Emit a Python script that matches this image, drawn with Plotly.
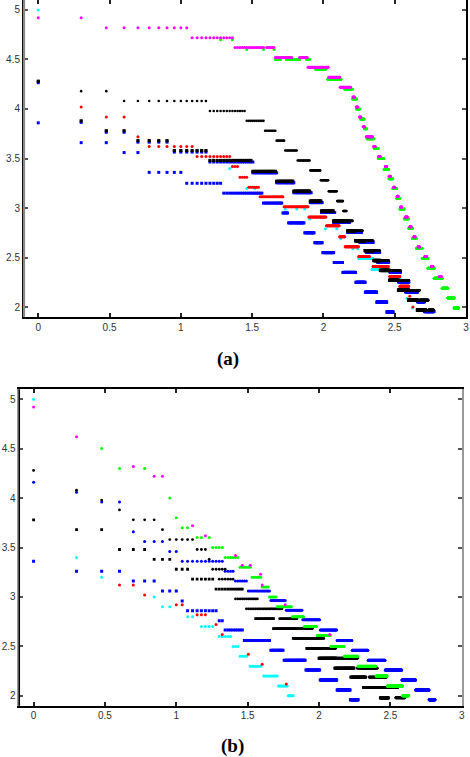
import math
import plotly.graph_objects as go

# Each run: (log10 value, first rank, last rank); points sit at x = log10(rank)
# ---------------- panel (a) ----------------
a_cyan = [(5.0, 1, 1), (3.40, 22, 22), (3.197, 29, 29), (3.197, 33, 33), (2.99, 54, 54), (2.99, 65, 65),
          (2.99, 74, 74), (2.89, 80, 80), (2.79, 103, 103), (2.79, 124, 124), (2.69, 132, 132),
          (2.59, 161, 161), (2.59, 174, 174), (2.49, 177, 222), (2.38, 219, 270), (2.28, 295, 345),
          (2.18, 337, 395), (2.09, 386, 386), (1.99, 419, 419)]
a_green = [(4.70, 19, 19), (4.70, 23, 23), (4.60, 29, 29), (4.60, 38, 38), (4.60, 45, 45), (4.50, 46, 50),
           (4.50, 55, 68), (4.50, 76, 80), (4.40, 88, 104), (4.30, 107, 133), (4.20, 141, 160),
           (4.10, 160, 171), (4.00, 171, 180), (3.90, 182, 193), (3.80, 194, 201), (3.70, 202, 226),
           (3.60, 227, 242), (3.50, 243, 265), (3.39, 266, 287), (3.295, 288, 306), (3.197, 307, 326),
           (3.10, 327, 343), (2.99, 344, 368), (2.893, 369, 396), (2.795, 397, 421), (2.693, 422, 448),
           (2.592, 449, 492), (2.49, 493, 540), (2.393, 541, 597), (2.29, 598, 680), (2.19, 681, 745),
           (2.092, 746, 825), (1.99, 826, 885)]
a_magenta = [(4.92, 1, 2), (4.82, 3, 11), (4.72, 12, 23), (4.62, 24, 38), (4.62, 40, 45), (4.52, 46, 60),
             (4.52, 68, 77), (4.42, 78, 99), (4.42, 103, 108), (4.32, 109, 130), (4.22, 131, 155),
             (4.12, 161, 165), (4.02, 170, 174), (3.92, 179, 183), (3.82, 190, 194), (3.72, 200, 221),
             (3.62, 225, 231), (3.52, 244, 250), (3.42, 272, 278), (3.32, 289, 295), (3.21, 310, 316),
             (3.12, 329, 335), (3.01, 348, 354), (2.91, 377, 387), (2.81, 404, 412), (2.71, 431, 439),
             (2.61, 461, 471), (2.51, 515, 529), (2.41, 572, 586), (2.31, 653, 670)]
a_blue_low = [(3.86, 1, 1), (3.66, 2, 3), (3.56, 4, 5), (3.36, 6, 10), (3.25, 11, 19), (3.15, 20, 37),
              (3.05, 38, 51), (2.95, 52, 56), (2.85, 57, 73), (2.75, 74, 86), (2.65, 87, 98),
              (2.55, 99, 118), (2.45, 119, 136), (2.35, 137, 168), (2.25, 169, 196), (2.15, 197, 236),
              (2.05, 237, 278), (1.95, 279, 308)]
a_blue_up = [(4.265, 1, 1), (3.865, 2, 2), (3.765, 3, 4), (3.665, 5, 8), (3.565, 9, 15), (3.465, 16, 32),
             (3.355, 32, 47), (3.255, 47, 62), (3.155, 62, 82), (3.055, 81, 98), (2.955, 97, 120),
             (2.855, 118, 152), (2.755, 148, 185), (2.655, 180, 223), (2.555, 200, 248), (2.455, 240, 287),
             (2.355, 293, 347), (2.255, 337, 397), (2.155, 378, 458), (2.055, 458, 510), (1.955, 512, 595)]
a_red = [(4.02, 2, 2), (3.92, 3, 4), (3.72, 5, 5), (3.62, 6, 12), (3.52, 13, 22), (3.42, 23, 25),
         (3.31, 26, 29), (3.21, 30, 35), (3.115, 36, 52), (3.014, 53, 78), (2.91, 79, 104),
         (2.82, 105, 129), (2.71, 130, 141), (2.61, 142, 176), (2.51, 177, 210), (2.41, 223, 285),
         (2.31, 292, 343), (2.21, 344, 396), (2.11, 403, 403), (2.0, 425, 425)]
a_black_sq = [(4.28, 1, 1), (3.88, 2, 2), (3.78, 3, 4), (3.68, 5, 8), (3.58, 9, 15), (3.48, 16, 31),
              (3.37, 32, 46), (3.27, 47, 61), (3.17, 62, 80), (3.07, 81, 96), (2.97, 97, 117),
              (2.87, 118, 147), (2.77, 148, 167), (2.67, 168, 195), (2.57, 196, 225), (2.47, 226, 250),
              (2.37, 251, 290), (2.27, 291, 335), (2.17, 336, 395), (2.07, 396, 455), (1.97, 456, 520)]
a_black_dot = [(4.28, 1, 1), (4.18, 2, 3), (4.08, 4, 15), (3.98, 16, 28), (3.88, 29, 38), (3.78, 39, 46),
               (3.68, 47, 53), (3.58, 54, 65), (3.48, 66, 80), (3.38, 81, 95), (3.28, 96, 108),
               (3.17, 109, 124), (3.07, 125, 137), (2.97, 138, 145), (2.87, 146, 160), (2.77, 161, 188),
               (2.67, 189, 223), (2.57, 224, 248), (2.47, 249, 287), (2.37, 288, 347), (2.27, 348, 397),
               (2.17, 398, 472), (2.07, 473, 543), (1.97, 544, 595)]

# ---------------- panel (b) ----------------
b_cyan = [(5.0, 1, 1), (3.40, 2, 2), (3.20, 3, 3), (3.0, 7, 7), (2.90, 8, 9), (2.80, 12, 13), (2.70, 15, 18),
          (2.60, 20, 24), (2.50, 25, 27), (2.40, 28, 31), (2.30, 33, 39), (2.20, 41, 51), (2.10, 52, 60),
          (2.00, 61, 66)]
b_red = [(3.12, 4, 5), (3.02, 6, 6), (2.92, 10, 11), (2.82, 14, 16), (2.72, 19, 19), (2.62, 21, 21),
         (2.42, 32, 32), (2.32, 40, 40), (2.12, 59, 59)]
b_blue_low = [(3.36, 1, 1), (3.26, 2, 4), (3.16, 5, 7), (3.06, 8, 10), (2.96, 11, 11), (2.86, 12, 19),
              (2.76, 20, 21), (2.665, 22, 29), (2.56, 30, 45), (2.46, 46, 56), (2.36, 57, 80),
              (2.26, 81, 101), (2.16, 102, 133), (2.06, 134, 165), (1.96, 166, 188)]
b_blue_up = [(4.16, 1, 1), (4.06, 2, 2), (3.96, 3, 4), (3.66, 5, 5), (3.56, 6, 8), (3.46, 9, 10),
             (3.36, 11, 21), (3.26, 22, 25), (3.16, 26, 31), (3.06, 32, 45), (2.965, 46, 58),
             (2.865, 59, 76), (2.77, 77, 101), (2.665, 102, 133), (2.56, 134, 170), (2.46, 171, 220),
             (2.36, 221, 290), (2.26, 291, 380), (2.16, 381, 475), (2.06, 476, 590), (1.96, 591, 650)]
b_black_sq = [(3.78, 1, 1), (3.68, 2, 3), (3.48, 4, 6), (3.38, 7, 9), (3.28, 10, 12), (3.18, 13, 18),
              (3.08, 19, 29), (2.78, 36, 48), (2.68, 48, 69), (2.58, 66, 85), (2.48, 82, 103),
              (2.38, 100, 131), (2.28, 129, 176), (2.19, 167, 212), (2.085, 205, 288), (1.98, 269, 306)]
b_black_dot = [(4.28, 1, 1), (4.08, 2, 2), (3.98, 3, 3), (3.88, 4, 4), (3.78, 5, 7), (3.68, 8, 8),
               (3.58, 9, 13), (3.48, 14, 16), (3.38, 17, 17), (3.28, 18, 22), (3.18, 20, 25),
               (2.98, 26, 37), (2.88, 31, 55), (2.78, 53, 70), (2.68, 70, 90), (2.58, 85, 108),
               (2.48, 103, 131), (2.38, 131, 186), (2.28, 186, 256), (2.19, 224, 298),
               (2.085, 282, 357), (1.98, 345, 400)]
b_green = [(4.50, 3, 3), (4.30, 4, 4), (4.30, 6, 6), (4.00, 9, 9), (3.80, 10, 10), (3.70, 11, 12),
           (3.60, 14, 15), (3.60, 17, 17), (3.50, 18, 21), (3.40, 22, 27), (3.30, 28, 33), (3.20, 34, 39),
           (3.10, 40, 44), (3.00, 45, 50), (2.90, 51, 64), (2.80, 65, 78), (2.70, 79, 96), (2.61, 97, 120),
           (2.50, 121, 150), (2.40, 151, 187), (2.30, 188, 250), (2.20, 251, 300), (2.10, 301, 385),
           (2.00, 386, 425)]
b_magenta = [(4.92, 1, 1), (4.62, 2, 2), (4.32, 5, 5), (4.22, 7, 8), (3.72, 13, 13), (3.62, 16, 16),
             (3.42, 26, 26), (3.32, 29, 29), (3.32, 33, 33), (3.23, 39, 39), (3.12, 40, 40),
             (2.92, 58, 58), (2.62, 119, 119)]

x_ticks = [0, 0.5, 1, 1.5, 2, 2.5, 3]
x_labels = ["0", "0.5", "1", "1.5", "2", "2.5", "3"]
y_ticks = [2, 2.5, 3, 3.5, 4, 4.5, 5]
y_labels = ["2", "2.5", "3", "3.5", "4", "4.5", "5"]


def expand(runs):
    xs, ys = [], []
    for val, r0, r1 in runs:
        for r in range(r0, r1 + 1):
            xs.append(math.log10(r))
            ys.append(val)
    return xs, ys


CY, GR, MG, BL, RD, BK = "#00ffff", "#00ff00", "#ff00ff", "#0000ff", "#ff0000", "#000000"

fig = go.Figure()


def add(runs, color, symbol, size, xa, ya):
    xs, ys = expand(runs)
    fig.add_trace(go.Scatter(x=xs, y=ys, mode="markers", xaxis=xa, yaxis=ya, hoverinfo="skip",
                             marker=dict(color=color, symbol=symbol, size=size, line=dict(width=0))))


# panel (a) draw order
add(a_cyan, CY, "circle", 3, "x", "y")
add(a_green, GR, "circle", 3, "x", "y")
add(a_magenta, MG, "circle", 3, "x", "y")
add(a_blue_low, BL, "square", 3, "x", "y")
add(a_blue_up, BL, "square", 3, "x", "y")
add(a_red, RD, "circle", 3, "x", "y")
add(a_black_sq, BK, "square", 3.2, "x", "y")
add(a_black_dot, BK, "circle", 2.6, "x", "y")

# panel (b) draw order
add(b_cyan, CY, "circle", 3, "x2", "y2")
add(b_red, RD, "circle", 3, "x2", "y2")
add(b_blue_low, BL, "square", 3, "x2", "y2")
add(b_blue_up, BL, "circle", 3, "x2", "y2")
add(b_black_sq, BK, "square", 2.8, "x2", "y2")
add(b_black_dot, BK, "circle", 2.8, "x2", "y2")
add(b_green, GR, "circle", 3, "x2", "y2")
add(b_magenta, MG, "circle", 3, "x2", "y2")

W, H = 470, 757
tickfont = dict(family="Liberation Sans, Arial, sans-serif", size=10, color="#333")


def xax(domain, rng, anchor, lw):
    return dict(domain=domain, range=rng, anchor=anchor, tickmode="array", tickvals=x_ticks,
                ticktext=x_labels, ticks="inside", ticklen=4, tickwidth=1.5, tickcolor="#222",
                showline=True, linecolor="#000", linewidth=lw, mirror="ticks", showgrid=False,
                zeroline=False, tickfont=tickfont, fixedrange=True, automargin=False,
                ticklabeloverflow="allow")


def yax(domain, rng, anchor, lw, color):
    return dict(domain=domain, range=rng, anchor=anchor, tickmode="array", tickvals=y_ticks,
                ticktext=y_labels, ticks="inside", ticklen=4, tickwidth=1.5, tickcolor="#555",
                showline=True, linecolor=color, linewidth=lw, mirror="ticks", showgrid=False,
                zeroline=False, tickfont=tickfont, fixedrange=True, automargin=False,
                ticklabeloverflow="allow")


a_top, a_bot = 0.0, 317.0
b_top, b_bot = 389.3, 705.7

fig.update_layout(
    width=W, height=H, margin=dict(l=0, r=0, t=0, b=0, autoexpand=False),
    paper_bgcolor="white", plot_bgcolor="white", showlegend=False,
    xaxis=xax([24 / W, 466 / W], [-0.1, 3.0], "y", 2),
    yaxis=yax([(H - a_bot) / H, (H - a_top) / H], [1.9, 5.1], "x", 2, "#000"),
    xaxis2=xax([19.3 / W, 461.7 / W], [-0.1, 3.0], "y2", 1.5),
    yaxis2=yax([(H - b_bot) / H, (H - b_top) / H], [1.9, 5.1], "x2", 1.5, "#999"),
    shapes=[
        # left border of (a) is gray, left border of (b) is black
        dict(type="line", xref="paper", yref="paper", x0=24 / W, x1=24 / W,
             y0=(H - a_bot) / H, y1=(H - a_top) / H, line=dict(color="#888", width=2.2)),
        dict(type="line", xref="paper", yref="paper", x0=19.3 / W, x1=19.3 / W,
             y0=(H - b_bot) / H, y1=(H - b_top) / H, line=dict(color="#000", width=1.5)),
    ],
    annotations=[
        dict(text="<b>(a)</b>", x=228 / W, y=(H - 359) / H, xref="paper", yref="paper",
             showarrow=False, xanchor="center", yanchor="middle",
             font=dict(family="Liberation Serif, Times New Roman, serif", size=19, color="#000")),
        dict(text="<b>(b)</b>", x=232 / W, y=(H - 746) / H, xref="paper", yref="paper",
             showarrow=False, xanchor="center", yanchor="middle",
             font=dict(family="Liberation Serif, Times New Roman, serif", size=19, color="#000")),
    ],
)

fig.write_html("out.html", config={"displayModeBar": False},
               post_script="document.body.style.margin='0px';document.body.style.overflow='hidden';")
